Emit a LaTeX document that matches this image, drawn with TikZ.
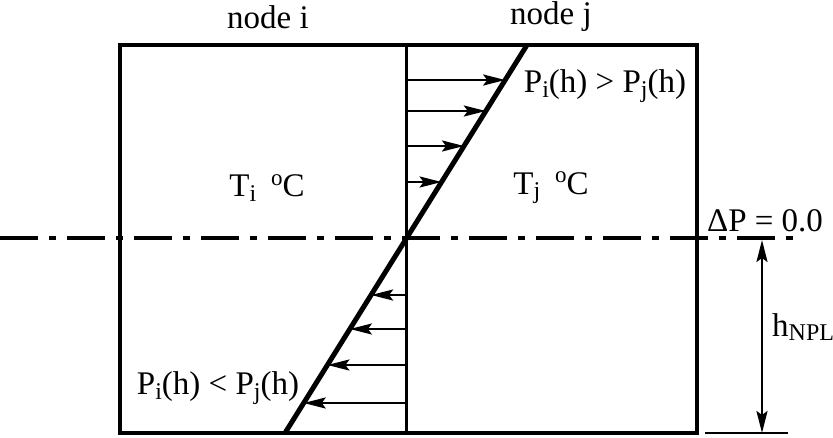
\documentclass[tikz,border=0pt]{standalone}
\usepackage{fontspec}
\setmainfont{Liberation Serif}
\usetikzlibrary{arrows.meta}
\newcommand{\sbx}[1]{\raisebox{-0.3ex}{\fontsize{24}{25}\selectfont #1}}
\newcommand{\spx}[1]{\raisebox{0.75ex}{\fontsize{23}{24}\selectfont #1}}
\begin{document}
\begin{tikzpicture}[x=1pt,y=-1pt,
  lbl/.style={font=\fontsize{33}{37}\selectfont, inner sep=0pt},
  wallline/.style={line width=3pt},
  flow/.style={line width=2.4pt,-{Stealth[length=22pt,width=11pt,inset=4pt]}},
  npl/.style={line width=3.2pt, dash pattern=on 38pt off 11pt on 7pt off 11pt}
]
\useasboundingbox (0,0) rectangle (833,437);
% box
\coordinate (tl) at (120,45);
\coordinate (br) at (697,433);
\draw[line width=3.4pt] (tl) rectangle (br);
\coordinate (wt) at (406,45);
\coordinate (wb) at (406,433);
\draw[wallline] (wt) -- (wb);
% neutral plane
\coordinate (nl) at (0,238);
\coordinate (nr) at (800,238);
\draw[npl] (nl) -- (nr);
% pressure line
\coordinate (pt) at (527,45);
\coordinate (pb) at (285,433);
\draw[line width=5pt] (pt) -- (pb);
% arrows
\foreach \y/\x [count=\k] in {80/505.2,111/485.8,146/464,182/441.6}{
  \coordinate (ra\k) at (406,\y);
  \coordinate (rb\k) at (\x,\y);
  \draw[flow] (ra\k) -- (rb\k);
}
\foreach \y/\x [count=\k] in {295/371.1,329/349.9,365/327.4,403/303.7}{
  \coordinate (la\k) at (406,\y);
  \coordinate (lb\k) at (\x,\y);
  \draw[flow] (la\k) -- (lb\k);
}
% h_NPL
\coordinate (hb1) at (705,433);
\coordinate (hb2) at (788,433);
\draw[line width=2.6pt] (hb1) -- (hb2);
\coordinate (ht) at (762,240);
\coordinate (hbb) at (762,433);
\draw[line width=2.6pt,{Stealth[length=22pt,width=11pt,inset=4pt]}-{Stealth[length=22pt,width=11pt,inset=4pt]}] (ht) -- (hbb);
% texts
\node[lbl] (ni) at (268,17) {node i};
\node[lbl] (nj) at (551,17) {node j};
\node[lbl] (ti) at (267,188) {T\sbx{i}\hspace{0.45em}\spx{o}C};
\node[lbl] (tj) at (551,188) {T\sbx{j}\hspace{0.45em}\spx{o}C};
\node[lbl] (pg) at (605,86) {P\sbx{i}(h) > P\sbx{j}(h)};
\node[lbl] (pl) at (218,388) {P\sbx{i}(h) < P\sbx{j}(h)};
\node[lbl] (dp) at (765,221) {ΔP = 0.0};
\node[lbl,anchor=west] (hn) at (772,327) {h\sbx{NPL}};
\end{tikzpicture}
\end{document}
